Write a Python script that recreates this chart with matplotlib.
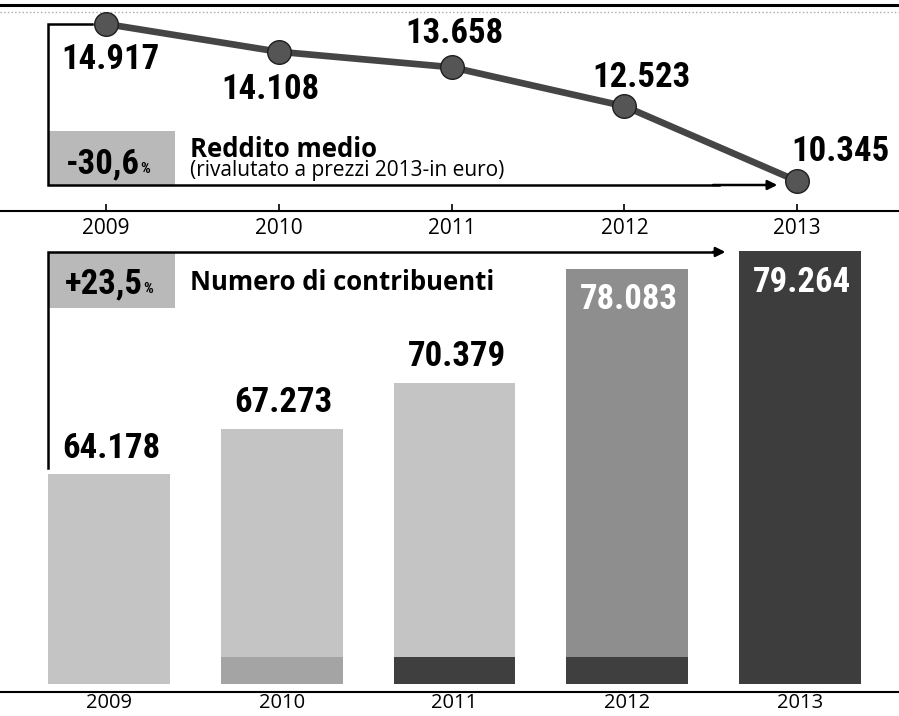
import matplotlib
matplotlib.use("Agg")
import matplotlib.pyplot as plt
from matplotlib import font_manager

# dati
years = [2009, 2010, 2011, 2012, 2013]
year_lbl = ["2009", "2010", "2011", "2012", "2013"]
reddito = [14917, 14108, 13658, 12523, 10345]
reddito_lbl = ["14.917", "14.108", "13.658", "12.523", "10.345"]
contribuenti = [64178, 67273, 70379, 78083, 79264]
contrib_lbl = ["64.178", "67.273", "70.379", "78.083", "79.264"]
quota_base = [0, 1800, 1800, 1800, 0]  # fascia alla base delle barre

# font: condensed bold for the big numbers, humanist sans for the rest
installed = {f.name for f in font_manager.fontManager.ttflist}


def pick(*names):
    for n in names:
        if n in installed:
            return n
    return "DejaVu Sans"


NUM_FONT = pick("Liberation Sans Narrow", "Roboto Condensed", "Roboto", "Open Sans")
TXT_FONT = pick("Open Sans", "Noto Sans", "Lato")
NUM_SIZE = 25 if NUM_FONT in ("Liberation Sans Narrow", "Roboto Condensed") else 23

W, H = 899, 716
fig = plt.figure(figsize=(W / 100, H / 100), dpi=100)
fig.patch.set_facecolor("white")


def px_axes(top, bottom):
    return fig.add_axes([0, 1 - bottom / H, 1, (bottom - top) / H])


# ---------- pannello alto: reddito medio ----------
ax1 = px_axes(5, 211)
ax1.set_xlim(2008.386, 2013.590)
ax1.set_ylim(9471, 15470)
ax1.plot(years, reddito, color="#454545", lw=4.8, zorder=3,
         marker="o", ms=17, mfc="#555555", mec="#1e1e1e", mew=1.0)

offs = [(4, -36), (-8, -38), (3, 34), (17, 29), (43, 29)]
for x, v, lbl, o in zip(years, reddito, reddito_lbl, offs):
    ax1.annotate(lbl, (x, v), xytext=o, textcoords="offset pixels",
                 ha="center", va="center", fontsize=NUM_SIZE,
                 fontweight="bold", family=NUM_FONT, color="black", zorder=4)

for s in ("left", "right"):
    ax1.spines[s].set_visible(False)
ax1.spines["top"].set_linewidth(2.2)
ax1.spines["bottom"].set_linewidth(1.5)
ax1.set_yticks([])
ax1.set_xticks(years)
ax1.set_xticklabels(year_lbl, family=TXT_FONT, fontsize=15)
ax1.tick_params(axis="x", direction="in", length=5, width=1.2, pad=5)
ax1.patch.set_alpha(0)

# parentesi con freccia
t1 = ax1.transAxes
ax1.plot([0, 1], [0.966, 0.966], color="#aaaaaa", lw=1, ls=":", transform=t1)
ax1.plot([0.1023, 0.0534, 0.0534, 0.80], [0.9078, 0.9078, 0.1262, 0.1262],
         color="black", lw=1.8, transform=t1, zorder=2, solid_joinstyle="miter")
ax1.annotate("", xy=(0.8677, 0.1262), xytext=(0.79, 0.1262), xycoords=t1,
             arrowprops=dict(arrowstyle="-|>", color="black", lw=1.8,
                             mutation_scale=14))
ax1.add_patch(plt.Rectangle((0.0534, 0.1262), 0.1413, 0.262, transform=t1,
                            facecolor="#b9b9b9", edgecolor="none", zorder=1))
ax1.text(0.1557, 0.1845, "-30,6", transform=t1, ha="right", va="baseline",
         fontsize=NUM_SIZE, fontweight="bold", family=NUM_FONT)
ax1.text(0.1557, 0.1845, "%", transform=t1, ha="left", va="baseline",
         fontsize=11, fontweight="bold", family=NUM_FONT)
ax1.text(0.2113, 0.30, "Reddito medio", transform=t1, ha="left", va="center",
         fontsize=18.5, fontweight="bold", family=TXT_FONT)
ax1.text(0.2113, 0.195, "(rivalutato a prezzi 2013-in euro)", transform=t1,
         ha="left", va="center", fontsize=15, family=TXT_FONT)

# ---------- pannello basso: numero di contribuenti ----------
ax2 = px_axes(240, 692)
ax2.set_xlim(2008.369, 2013.573)
ax2.set_ylim(49459, 80041)
base = 50000
main_col = ["#c4c4c4", "#c4c4c4", "#c4c4c4", "#8e8e8e", "#3d3d3d"]
base_col = ["#c4c4c4", "#a4a4a4", "#3f3f3f", "#3f3f3f", "#3d3d3d"]
ax2.bar(years, [v - base for v in contribuenti], bottom=base, width=0.706,
        color=main_col, zorder=2)
ax2.bar(years, quota_base, bottom=base, width=0.706, color=base_col, zorder=2)

for i, (x, v, lbl) in enumerate(zip(years, contribuenti, contrib_lbl)):
    inside = main_col[i] != "#c4c4c4"
    ax2.annotate(lbl, (x, v), xytext=(2, -31 if inside else 26),
                 textcoords="offset pixels", ha="center", va="center",
                 fontsize=NUM_SIZE, fontweight="bold", family=NUM_FONT,
                 color="white" if inside else "black", zorder=4)

for s in ("left", "right", "top"):
    ax2.spines[s].set_visible(False)
ax2.spines["bottom"].set_linewidth(1.5)
ax2.set_yticks([])
ax2.set_xticks(years)
ax2.set_xticklabels(year_lbl, family=TXT_FONT, fontsize=14.5)
ax2.tick_params(axis="x", length=0, pad=1)
ax2.patch.set_alpha(0)

t2 = ax2.transAxes
ax2.plot([0.0534, 0.0534, 0.80], [0.4956, 0.9735, 0.9735], color="black",
         lw=1.8, transform=t2, zorder=3, solid_joinstyle="miter")
ax2.annotate("", xy=(0.810, 0.9735), xytext=(0.79, 0.9735), xycoords=t2,
             arrowprops=dict(arrowstyle="-|>", color="black", lw=1.8,
                             mutation_scale=14))
ax2.add_patch(plt.Rectangle((0.0534, 0.8496), 0.1413, 0.1239, transform=t2,
                            facecolor="#b9b9b9", edgecolor="none", zorder=1))
ax2.text(0.159, 0.8827, "+23,5", transform=t2, ha="right", va="baseline",
         fontsize=NUM_SIZE, fontweight="bold", family=NUM_FONT)
ax2.text(0.159, 0.8827, "%", transform=t2, ha="left", va="baseline",
         fontsize=11, fontweight="bold", family=NUM_FONT)
ax2.text(0.2113, 0.905, "Numero di contribuenti", transform=t2, ha="left",
         va="center", fontsize=18.5, fontweight="bold", family=TXT_FONT)

fig.savefig("out.png", dpi=100, facecolor="white")
